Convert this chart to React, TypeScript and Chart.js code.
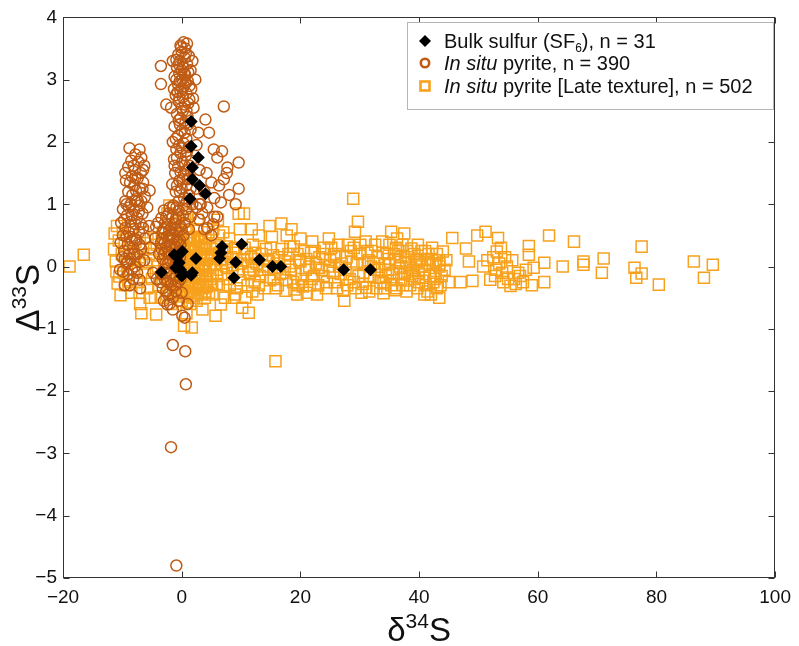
import React, { useEffect, useRef } from "react";
import { Chart, registerables } from "chart.js";
Chart.register(...registerables);

const xTicks = [-20, 0, 20, 40, 60, 80, 100];
const yTicks = [-5, -4, -3, -2, -1, 0, 1, 2, 3, 4];
const xTitle = { main: "δ", sup: "34", tail: "S" };
const yTitle = { main: "Δ", sup: "33", tail: "S" };

const bulkSulfur: [number, number][] = [
  [1.6, 2.33], [1.6, 1.93], [2.8, 1.75], [1.8, 1.59], [1.8, 1.4], [3.0, 1.3], [4.0, 1.17], [1.4, 1.09],
  [-3.4, -0.09], [-1.0, -0.02], [-1.25, 0.19], [0.1, 0.24], [-0.4, 0.06], [-0.7, 0.16], [2.4, 0.13],
  [1.8, -0.1], [1.6, -0.14], [-0.2, -0.05], [0.3, -0.12], [0.0, -0.15],
  [6.8, 0.32], [6.4, 0.13], [6.6, 0.22], [10.1, 0.36], [9.1, 0.07], [8.8, -0.18], [13.1, 0.11],
  [15.3, 0.0], [16.7, 0.0], [27.3, -0.05], [31.8, -0.05],
];

const inSituPyrite: [number, number][] = [
  // upper column
  [0.3, 3.6], [-0.2, 3.55], [0.6, 3.5], [0.0, 3.45], [-0.6, 3.4], [1.2, 3.38], [0.5, 3.35], [-0.3, 3.3],
  [0.9, 3.25], [-0.8, 3.2], [0.2, 3.2], [1.5, 3.15], [-0.4, 3.1], [0.6, 3.08], [-1.2, 3.05], [0.1, 3.0],
  [1.0, 2.98], [-0.6, 2.92], [0.4, 2.9], [1.6, 2.85], [-0.2, 2.82], [0.8, 2.78], [-1.0, 2.75], [0.2, 2.72],
  [1.3, 2.68], [-0.5, 2.65], [0.5, 2.6], [-3.5, 3.22], [-3.5, 2.93], [-2.6, 2.6], [-1.8, 2.55], [2.0, 2.55],
  [1.8, 3.3], [2.3, 3.0], [1.9, 2.7], [-1.5, 3.3], [0.9, 3.58], [7.1, 2.57], [-0.1, 3.52], [0.7, 3.42],
  [-0.9, 3.32], [0.0, 3.15], [1.1, 3.12], [-0.3, 2.98], [0.7, 2.95], [-0.7, 2.8], [1.1, 2.62], [0.0, 2.55],
  [-0.5, 3.25], [0.4, 3.1], [-0.9, 3.0], [1.3, 2.9], [-1.3, 2.85], [0.1, 2.85], [-0.4, 2.7],
  // middle column
  [0.2, 2.5], [-0.8, 2.45], [1.0, 2.4], [-0.2, 2.38], [0.6, 2.3], [-1.2, 2.25], [1.5, 2.2], [0.0, 2.18],
  [-0.6, 2.1], [0.8, 2.05], [-1.5, 2.0], [0.3, 1.98], [1.2, 1.92], [-0.9, 1.88], [-0.2, 1.82], [0.7, 1.78],
  [-1.3, 1.72], [1.6, 1.7], [0.1, 1.68], [-0.6, 1.6], [0.9, 1.55], [-1.1, 1.5], [0.4, 1.48], [1.4, 1.42],
  [-0.4, 1.38], [-1.6, 1.32], [0.8, 1.3], [0.0, 1.25], [-1.0, 1.2], [1.2, 1.15], [0.4, 1.1], [-0.5, 1.05],
  [1.8, 1.0], [-1.4, 0.98], [2.5, 1.95], [2.8, 2.15], [3.0, 1.55], [2.5, 1.25], [3.2, 1.0], [-0.3, 2.28],
  [0.5, 2.15], [-0.4, 1.95], [0.9, 1.85], [-0.8, 1.75], [0.5, 1.62], [-0.2, 1.52], [1.0, 1.4], [-0.8, 1.3],
  [0.8, 2.5], [-0.5, 2.35], [1.1, 2.28], [-1.0, 2.05], [0.1, 1.9], [1.3, 1.62], [-1.2, 1.62], [0.2, 1.4],
  [-0.3, 1.2], [1.5, 1.25], [0.9, 1.05],
  // right spread
  [4.0, 2.36], [4.6, 2.15], [5.4, 1.88], [6.8, 1.85], [6.0, 1.75], [7.7, 1.59], [9.6, 1.67], [7.1, 1.4],
  [6.3, 1.3], [9.6, 1.25], [6.6, 1.03], [9.1, 1.0], [4.2, 1.5], [5.0, 1.35], [3.8, 1.2], [5.5, 1.1],
  [8.0, 1.15], [7.6, 1.5], [3.0, 1.0], [4.3, 0.95], [6.0, 0.8], [5.3, 0.68],
  // lower column
  [-1.5, 0.95], [-0.5, 0.9], [0.8, 0.92], [-2.2, 0.85], [0.2, 0.82], [1.5, 0.8], [-1.0, 0.76], [-2.8, 0.7],
  [0.5, 0.7], [-0.2, 0.65], [-1.8, 0.62], [1.2, 0.6], [-3.2, 0.55], [-0.8, 0.55], [0.3, 0.5], [-2.5, 0.48],
  [-1.4, 0.45], [-0.3, 0.42], [-3.5, 0.38], [-2.0, 0.35], [-1.0, 0.3], [-2.8, 0.25],
  [-0.2, 0.25], [-1.7, 0.2], [-3.2, 0.12], [-0.8, 0.12], [-2.3, 0.05], [-1.2, 0.0], [-3.0, -0.05], [-0.4, -0.05],
  [-2.0, -0.12], [-1.4, -0.2], [-2.8, -0.22], [-0.6, -0.25], [-1.8, -0.3], [-3.2, -0.35], [-1.0, -0.4], [-2.3, -0.45],
  [0.0, -0.42], [2.5, 0.95], [3.0, 0.75], [3.5, 0.85], [4.3, 0.62], [3.8, 0.6],
  [5.0, 0.5], [5.5, 0.8], [-4.0, 0.7], [-4.5, 0.45], [-4.2, -0.2],
  [-2.6, 0.8], [-1.2, 0.68], [-2.1, 0.58], [-0.6, 0.4], [-2.6, 0.32], [-1.5, 0.1], [-2.6, -0.1], [-0.9, -0.15],
  [-4.3, 0.64], [-3.8, 0.2], [-3.6, -0.25], [-1.5, -0.5], [-2.6, -0.4],
  [-3.0, 0.9], [-2.0, 0.95], [-0.9, 0.95], [0.4, 0.98], [-3.4, 0.78], [-2.4, 0.68], [-1.6, 0.78], [-0.5, 0.78],
  [-3.0, 0.6], [-1.9, 0.5], [-1.0, 0.6], [0.0, 0.6], [-3.3, 0.45], [-2.2, 0.45], [-0.9, 0.42], [-2.9, 0.38],
  [-1.2, 0.35], [-0.2, 0.35], [-3.4, 0.28], [-2.2, 0.22], [-1.1, 0.18], [-0.3, 0.15], [-3.0, 0.2], [-1.9, 0.08],
  [-0.7, 0.02], [-2.7, 0.05], [-3.5, -0.12], [-2.3, -0.25], [-1.1, -0.3], [-0.2, -0.2],
  // lower outliers
  [-2.4, -0.61], [-1.5, -0.69], [0.1, -0.79], [0.5, -0.82], [-1.5, -1.26], [0.6, -1.36], [0.7, -1.89],
  [-1.8, -2.9], [-0.9, -4.8], [-0.5, -0.55], [1.0, -0.6], [-3.0, -0.55], [-2.0, -0.6],
  // left column
  [-7.1, 1.88], [-7.8, 1.8], [-6.8, 1.75], [-8.5, 1.7], [-7.3, 1.68], [-6.3, 1.62], [-9.0, 1.6], [-7.9, 1.55],
  [-6.9, 1.5], [-8.4, 1.45], [-7.4, 1.42], [-9.4, 1.38], [-6.5, 1.35], [-8.0, 1.3], [-7.0, 1.25], [-9.0, 1.2],
  [-8.3, 1.15], [-6.2, 1.12], [-7.6, 1.08], [-9.5, 1.05], [-8.6, 1.0], [-7.1, 0.98], [-5.8, 0.95], [-9.9, 0.92],
  [-8.0, 0.9], [-6.6, 0.85], [-9.2, 0.82], [-7.5, 0.78], [-8.6, 0.72], [-10.2, 0.7], [-6.9, 0.68], [-5.5, 0.65],
  [-9.5, 0.62], [-8.1, 0.6], [-7.2, 0.55], [-9.9, 0.5], [-8.7, 0.48], [-6.2, 0.45], [-7.6, 0.42], [-10.3, 0.38],
  [-9.1, 0.35], [-8.2, 0.3], [-6.8, 0.28], [-9.7, 0.25], [-7.5, 0.2], [-10.0, 0.15], [-8.6, 0.12], [-9.3, 0.05],
  [-7.9, 0.0], [-10.4, -0.05], [-9.0, -0.12], [-8.2, -0.2], [-9.6, -0.3], [-7.5, -0.1], [-7.0, -0.35], [-5.3, 0.3],
  [-4.8, -0.1], [-6.5, 1.55], [-8.8, 1.9], [-9.1, 0.08], [-9.9, -0.08], [-7.1, -0.21], [-5.4, 1.22], [-8.1, 1.62],
  [-7.7, 1.22], [-8.4, 0.82], [-7.2, 0.88], [-8.9, 0.55], [-7.9, 0.45], [-8.8, 0.2], [-8.4, -0.05], [-7.4, 1.05],
  [-9.5, 1.5], [-8.7, 1.35], [-7.8, 1.42], [-6.6, 1.25], [-9.3, 1.0], [-7.9, 1.05], [-6.8, 1.05], [-9.7, 0.75],
  [-8.9, 0.95], [-7.8, 0.68], [-6.5, 0.62], [-9.3, 0.48], [-8.4, 0.42], [-7.1, 0.35], [-9.6, 0.12], [-8.0, 0.2],
  [-7.0, 0.08], [-8.7, -0.3], [-6.3, 0.1],
];

const lateTexture: [number, number][] = [
  [-18.9, 0.0], [-16.5, 0.19],
  // left edge of blob
  [-11.3, 0.53], [-11.4, 0.28], [-11.1, 0.08], [-11.0, -0.08], [-10.8, -0.27], [-10.5, -0.16], [-10.3, -0.46],
  [-10.6, 0.42], [-10.1, 0.2], [-9.8, -0.1], [-9.6, 0.35], [-9.5, -0.3], [-9.2, 0.05], [-9.0, -0.22], [-8.8, 0.25],
  [-8.5, -0.42], [-8.2, 0.1], [-8.0, -0.05], [-7.8, 0.4], [-7.5, -0.25], [-7.2, 0.15], [-7.0, -0.6], [-6.8, -0.75],
  [-6.5, 0.3], [-6.2, -0.1], [-6.0, 0.05], [-5.8, -0.35], [-5.5, 0.2], [-5.2, 0.45], [-5.0, -0.2], [-9.9, 0.55],
  [-8.4, 0.6], [-7.1, -0.42], [-6.6, 0.55], [-5.4, -0.5], [-10.9, 0.65],
  // core blob
  [-4.8, 0.1], [-4.5, -0.5], [-4.3, -0.77], [-4.2, 0.35], [-4.0, 0.0], [-3.8, -0.3], [-3.5, 0.25], [-3.2, 0.55],
  [-3.0, -0.1], [-2.8, 0.15], [-2.5, -0.45], [-2.4, 0.85], [-2.1, 0.98], [-2.2, 0.4], [-2.0, 0.05], [-1.8, -0.2],
  [-1.5, 0.3], [-1.2, -0.35], [-1.0, 0.6], [-0.8, 0.1], [-0.5, -0.15], [-0.3, 0.4], [0.0, 0.2], [0.2, -0.4],
  [0.4, -0.95], [0.5, 0.75], [0.7, 0.0], [1.0, -0.25], [1.2, 0.45], [1.5, 0.1], [1.7, -0.98], [1.8, -0.5],
  [2.0, 0.3], [2.2, -0.1], [2.5, 0.6], [2.8, -0.3], [3.0, 0.15], [3.2, 0.45], [3.5, -0.69], [3.5, -0.05],
  [3.8, 0.3], [4.0, -0.4], [4.2, 0.1], [4.5, 0.55], [-3.9, 0.45], [-3.4, -0.2], [-2.9, 0.35], [-2.6, -0.05],
  [-2.3, 0.2], [-1.9, -0.4], [-1.6, 0.5], [-1.3, 0.05], [-1.1, -0.1], [-0.7, 0.3], [-0.4, -0.3], [-0.1, 0.5],
  [0.1, -0.1], [0.3, 0.35], [0.6, -0.2], [0.8, 0.15], [0.9, 0.55], [1.1, -0.4], [1.3, 0.25], [1.6, -0.15],
  [1.9, 0.45], [2.1, 0.05], [2.3, -0.35], [2.4, 0.25], [2.6, 0.0], [2.9, 0.4], [3.1, -0.2], [3.3, 0.2],
  [3.6, -0.35], [3.7, 0.05], [3.9, -0.15], [4.1, 0.35], [4.3, -0.25], [4.4, 0.2], [0.0, -0.55], [1.4, -0.6],
  [2.7, 0.75], [-0.6, 0.7], [1.0, 0.85], [-1.8, -0.6], [0.8, -0.75], [2.5, -0.55], [-3.3, -0.5], [-2.7, 0.6],
  [-1.0, -0.45], [-0.4, -0.42], [0.3, -0.48], [0.9, -0.45], [1.5, -0.4], [2.1, -0.47], [2.7, -0.43], [3.3, -0.45],
  [3.9, -0.5], [4.6, -0.42], [-0.8, -0.3], [-0.1, -0.28], [0.5, -0.32], [1.2, -0.3], [1.8, -0.27], [2.4, -0.3],
  [3.0, -0.33], [3.6, -0.28], [4.2, -0.32], [4.9, -0.3], [-0.9, -0.15], [-0.2, -0.13], [0.4, -0.17], [1.0, -0.12],
  [1.7, -0.15], [2.3, -0.18], [2.9, -0.12], [3.5, -0.16], [4.1, -0.13], [4.8, -0.15], [-1.1, 0.0], [-0.4, 0.02],
  [0.2, -0.02], [0.9, 0.03], [1.5, 0.0], [2.2, 0.02], [2.8, -0.03], [3.4, 0.0], [4.0, 0.03], [4.7, 0.0],
  [-0.8, 0.15], [-0.1, 0.13], [0.6, 0.17], [1.2, 0.12], [1.8, 0.15], [2.5, 0.18], [3.1, 0.13], [3.7, 0.16],
  [4.3, 0.12], [5.0, 0.15], [-1.0, 0.3], [-0.3, 0.28], [0.4, 0.32], [1.0, 0.3], [1.6, 0.27], [2.3, 0.3],
  [2.9, 0.33], [3.5, 0.28], [4.1, 0.3], [4.8, 0.3], [-0.6, 0.45], [0.2, 0.43], [0.8, 0.47], [1.5, 0.42],
  [2.1, 0.45], [2.7, 0.48], [3.4, 0.44], [4.0, 0.46],
  // band
  [4.8, -0.2], [5.0, 0.2], [5.2, -0.45], [5.5, 0.05], [5.7, -0.79], [5.8, 0.35], [6.0, -0.15], [6.3, 0.5],
  [6.6, -0.61], [6.5, 0.1], [7.0, -0.3], [7.3, 0.25], [7.5, 0.0], [7.8, -0.2], [8.0, 0.45], [8.3, 0.15],
  [8.5, -0.1], [9.0, 0.3], [9.3, -0.35], [9.6, 0.85], [10.5, 0.85], [10.0, 0.05], [10.2, -0.66], [10.7, -0.5],
  [11.0, 0.2], [11.3, -0.74], [11.5, -0.1], [12.0, 0.35], [12.3, -0.25], [12.6, 0.05], [13.0, 0.5], [13.2, -0.15],
  [13.5, 0.2], [14.0, -0.35], [14.3, 0.1], [14.6, -0.05], [15.0, 0.3], [15.2, 0.48], [15.5, -0.2], [15.8, -1.52],
  [16.0, 0.05], [16.4, 0.15], [16.8, 0.69], [17.0, -0.1], [17.5, -0.39], [17.7, 0.5], [18.0, 0.2], [18.4, -0.05],
  [18.9, 0.32], [19.0, -0.37], [19.5, -0.45], [19.8, 0.1], [20.2, -0.2], [20.6, 0.25], [21.1, -0.42], [21.5, 0.0],
  [22.0, 0.4], [22.3, -0.15], [22.8, -0.45], [23.2, 0.15], [23.6, -0.05], [24.0, 0.3], [24.5, -0.25], [25.0, 0.1],
  [25.5, -0.1], [26.0, 0.2], [26.5, 0.0], [27.2, -0.39], [27.4, -0.55], [27.8, 0.15], [28.3, -0.2], [28.9, 1.09],
  [29.2, 0.56], [29.7, 0.72], [29.5, 0.05], [30.3, -0.42], [30.0, 0.2], [30.6, -0.1], [31.1, -0.34], [31.5, 0.1],
  [32.0, 0.25], [32.5, -0.05], [33.0, 0.15], [33.5, -0.25], [34.0, -0.43], [34.0, -0.27], [34.3, 0.05], [34.6, 0.2],
  [35.0, 0.35], [35.3, 0.56], [35.5, -0.1], [36.0, 0.1], [36.5, 0.25], [37.0, -0.2], [37.5, 0.53], [37.8, 0.05],
  [38.2, 0.15], [38.7, 0.29], [39.0, -0.05], [39.5, 0.1], [40.0, -0.25], [40.5, 0.0], [40.9, -0.45], [41.3, 0.1],
  [41.8, -0.15], [42.0, -0.45], [42.3, 0.05], [43.0, 0.2], [43.4, 0.1], [43.4, 0.05], [43.4, 0.0], [43.4, -0.5],
  [43.6, -0.3], [44.0, 0.24],
  [5.3, 0.6], [6.1, 0.75], [7.0, 0.55], [8.8, -0.5], [9.8, 0.6], [11.8, 0.6], [12.8, -0.45], [14.8, 0.65],
  [16.2, -0.3], [18.5, 0.6], [20.0, 0.45], [21.8, 0.22], [23.0, -0.3], [24.8, 0.45], [26.2, -0.35], [28.0, 0.35],
  [29.0, -0.25], [31.0, 0.4], [32.8, -0.35], [33.8, 0.4], [36.2, -0.35], [37.2, 0.35], [38.5, -0.3], [39.8, 0.35],
  [41.0, 0.25], [42.6, -0.2], [5.8, -0.05], [6.8, 0.05], [7.7, 0.12], [8.6, 0.02], [9.5, -0.08], [10.4, 0.1],
  [11.2, 0.0], [12.1, -0.05], [12.9, 0.12], [13.8, 0.0], [14.7, 0.08], [15.6, -0.02], [16.6, -0.12], [17.4, 0.08],
  [18.2, 0.0], [19.2, -0.12], [20.0, 0.08], [20.9, -0.05], [21.9, -0.2], [22.6, 0.05], [23.9, -0.15], [24.8, 0.0],
  [25.7, 0.15], [26.8, -0.12], [27.6, -0.05], [28.6, 0.08], [29.8, -0.15], [30.8, 0.05], [31.8, -0.15], [32.3, 0.05],
  [33.3, -0.05], [34.8, -0.05], [35.8, 0.2], [36.8, 0.0], [37.6, -0.1], [38.4, 0.0], [39.3, -0.2], [40.2, 0.12],
  [41.0, -0.05], [42.8, -0.1], [44.3, -0.05], [35.3, -0.3], [36.3, 0.45], [34.9, 0.12], [36.6, -0.12], [38.0, -0.08],
  [39.6, 0.05], [40.7, -0.18], [41.8, 0.05], [43.0, -0.35], [42.2, 0.3],
  [5.2, 0.28], [5.9, -0.28], [6.4, 0.22], [7.1, -0.12], [7.6, 0.32], [8.1, -0.3], [8.7, 0.22], [9.2, 0.12],
  [9.9, -0.22], [10.6, 0.3], [11.1, -0.3], [11.7, 0.15], [12.4, 0.22], [13.0, -0.3], [13.6, -0.05], [14.2, 0.28],
  [14.9, -0.22], [15.4, 0.18], [16.1, -0.02], [16.9, 0.28], [17.6, -0.22], [18.3, 0.32], [18.8, -0.25], [19.5, 0.2],
  [20.4, -0.32], [21.0, 0.12], [21.6, -0.3], [22.4, 0.25], [23.1, -0.02], [23.8, 0.2], [24.3, -0.35], [25.2, 0.3],
  [25.8, -0.25], [26.4, 0.35], [27.0, 0.05], [27.9, -0.3], [28.5, 0.25], [29.3, -0.35], [30.1, 0.35], [30.5, -0.28],
  [31.3, 0.25], [31.9, 0.0], [32.6, 0.35], [33.2, -0.18], [33.9, 0.22], [34.4, -0.15], [35.1, 0.05], [35.7, -0.22],
  [36.1, 0.3], [36.9, 0.15], [37.3, -0.3], [38.0, 0.25], [38.8, -0.15], [39.2, 0.2], [39.9, -0.1], [40.4, 0.25],
  [41.1, -0.3], [41.6, 0.2], [42.4, -0.25], [42.9, 0.1], [43.8, -0.15], [44.6, 0.1], [34.2, -0.35], [35.9, -0.38],
  [37.9, -0.4], [39.7, -0.35], [41.4, -0.4], [29.0, 0.3], [31.6, -0.4], [24.2, 0.12], [19.6, -0.3], [15.9, -0.35],
  [11.9, -0.4], [9.0, -0.45], [7.3, -0.5],
  // far right
  [45.0, -0.25], [45.6, 0.46], [47.0, -0.25], [47.9, 0.29], [48.4, 0.08], [49.0, -0.23], [49.8, 0.5], [50.8, 0.0],
  [51.2, 0.56], [51.5, 0.1], [52.0, -0.21], [52.5, 0.15], [53.1, 0.24], [53.3, 0.46], [53.5, 0.05], [54.0, -0.1],
  [54.5, 0.15], [55.0, -0.2], [55.4, -0.31], [56.0, -0.2], [56.7, -0.1], [57.5, -0.25], [58.0, -0.05], [58.5, 0.33],
  [58.5, 0.19], [59.0, -0.3], [59.3, -0.02], [61.1, 0.06], [61.1, -0.25], [61.9, 0.5], [64.2, 0.0], [66.1, 0.4],
  [67.7, 0.08], [67.7, 0.03], [70.8, -0.1], [71.1, 0.13], [76.3, -0.02], [76.6, -0.18], [77.5, 0.32], [77.5, -0.11],
  [80.4, -0.29], [86.3, 0.08], [88.0, -0.18], [89.5, 0.03], [53.0, -0.05], [54.8, 0.0], [56.3, -0.28], [57.0, -0.15],
  [52.8, -0.15], [55.7, 0.1], [53.8, 0.3], [54.2, -0.25],
];

const FONT = '"Liberation Sans", Arial, Helvetica, sans-serif';
const CIRCLE_COLOR = "#BF5B14";
const SQUARE_COLOR = "#F7A11C";
const TEXT_COLOR = "#111111";

const fmt = (v: number | string) => String(v).replace("-", "\u2212");

function drawComposite(ctx: CanvasRenderingContext2D, t: { main: string; sup: string; tail: string }, cx: number, baseline: number) {
  const big = `33px ${FONT}`;
  const small = `21px ${FONT}`;
  ctx.font = big;
  const w1 = ctx.measureText(t.main).width;
  const w3 = ctx.measureText(t.tail).width;
  ctx.font = small;
  const w2 = ctx.measureText(t.sup).width;
  let x = cx - (w1 + w2 + w3) / 2;
  ctx.textAlign = "left";
  ctx.textBaseline = "alphabetic";
  ctx.font = big;
  ctx.fillText(t.main, x, baseline);
  x += w1;
  ctx.font = small;
  ctx.fillText(t.sup, x, baseline - 13);
  x += w2;
  ctx.font = big;
  ctx.fillText(t.tail, x, baseline);
}

const decorPlugin = {
  id: "decor",
  afterDatasetsDraw(chart: any) {
    const { ctx, chartArea: a, scales } = chart;
    ctx.save();
    ctx.strokeStyle = "#333333";
    ctx.lineWidth = 1;
    const L = Math.round(a.left) + 0.5, R = Math.round(a.right) - 0.5;
    const T = Math.round(a.top) + 0.5, B = Math.round(a.bottom) - 0.5;
    ctx.strokeRect(L, T, R - L, B - T);
    const tl = 6;
    ctx.beginPath();
    for (const v of xTicks) {
      const px = Math.round(scales.x.getPixelForValue(v)) + 0.5;
      ctx.moveTo(px, B); ctx.lineTo(px, B - tl);
      ctx.moveTo(px, T); ctx.lineTo(px, T + tl);
    }
    for (const v of yTicks) {
      const py = Math.round(scales.y.getPixelForValue(v)) + 0.5;
      ctx.moveTo(L, py); ctx.lineTo(L + tl, py);
      ctx.moveTo(R, py); ctx.lineTo(R - tl, py);
    }
    ctx.stroke();

    // axis titles
    ctx.fillStyle = TEXT_COLOR;
    drawComposite(ctx, xTitle, (a.left + a.right) / 2, 641);
    ctx.save();
    ctx.translate(39, (a.top + a.bottom) / 2);
    ctx.rotate(-Math.PI / 2);
    drawComposite(ctx, yTitle, 0, 0);
    ctx.restore();

    // legend
    const lx = 407, ly = 22, lw = 366, lh = 87;
    ctx.fillStyle = "#ffffff";
    ctx.fillRect(lx, ly, lw, lh);
    ctx.strokeStyle = "#b5b5b5";
    ctx.lineWidth = 1;
    ctx.strokeRect(lx + 0.5, ly + 0.5, lw, lh);
    const rows = [41, 63, 86];
    const mx = 425, tx = 444;
    // diamond
    ctx.fillStyle = "#000000";
    ctx.beginPath();
    ctx.moveTo(mx, rows[0] - 6); ctx.lineTo(mx + 6, rows[0]); ctx.lineTo(mx, rows[0] + 6); ctx.lineTo(mx - 6, rows[0]);
    ctx.closePath(); ctx.fill();
    // circle
    ctx.strokeStyle = CIRCLE_COLOR; ctx.lineWidth = 2.6;
    ctx.beginPath(); ctx.arc(mx, rows[1], 4.2, 0, Math.PI * 2); ctx.stroke();
    // square
    ctx.strokeStyle = SQUARE_COLOR; ctx.lineWidth = 2.6;
    ctx.strokeRect(mx - 4.5, rows[2] - 4.5, 9, 9);

    ctx.fillStyle = TEXT_COLOR;
    ctx.textAlign = "left";
    ctx.textBaseline = "alphabetic";
    const normal = `20px ${FONT}`, italic = `italic 20px ${FONT}`, sub = `12px ${FONT}`;
    let x = tx;
    let by = rows[0] + 7;
    ctx.font = normal; ctx.fillText("Bulk sulfur (SF", x, by); x += ctx.measureText("Bulk sulfur (SF").width;
    ctx.font = sub; ctx.fillText("6", x, by + 4); x += ctx.measureText("6").width;
    ctx.font = normal; ctx.fillText("), n = 31", x, by);
    x = tx; by = rows[1] + 7;
    ctx.font = italic; ctx.fillText("In situ", x, by); x += ctx.measureText("In situ").width;
    ctx.font = normal; ctx.fillText(" pyrite, n = 390", x, by);
    x = tx; by = rows[2] + 7;
    ctx.font = italic; ctx.fillText("In situ", x, by); x += ctx.measureText("In situ").width;
    ctx.font = normal; ctx.fillText(" pyrite [Late texture], n = 502", x, by);
    ctx.restore();
  },
};

export default function App() {
  const ref = useRef<HTMLCanvasElement | null>(null);
  useEffect(() => {
    if (!ref.current) return;
    const chart = new Chart(ref.current, {
      type: "scatter",
      data: {
        datasets: [
          {
            label: "Bulk sulfur (SF6), n = 31",
            data: bulkSulfur.map(([x, y]) => ({ x, y })),
            pointStyle: "rectRot",
            pointRadius: 6.5,
            backgroundColor: "#000000",
            borderColor: "#000000",
            borderWidth: 0,
            order: 1,
          },
          {
            label: "In situ pyrite, n = 390",
            data: inSituPyrite.map(([x, y]) => ({ x, y })),
            pointStyle: "circle",
            pointRadius: 5.5,
            backgroundColor: "rgba(0,0,0,0)",
            borderColor: CIRCLE_COLOR,
            borderWidth: 1.5,
            order: 2,
          },
          {
            label: "In situ pyrite [Late texture], n = 502",
            data: lateTexture.map(([x, y]) => ({ x, y })),
            pointStyle: "rect",
            pointRadius: 7.8,
            backgroundColor: "rgba(0,0,0,0)",
            borderColor: SQUARE_COLOR,
            borderWidth: 1.5,
            order: 3,
          },
        ],
      },
      options: {
        responsive: false,
        animation: false,
        layout: { padding: { top: 12, right: 19, left: 0, bottom: 0 } },
        plugins: { legend: { display: false }, tooltip: { enabled: false } },
        scales: {
          x: {
            type: "linear",
            min: -20,
            max: 100,
            afterBuildTicks: (s: any) => { s.ticks = xTicks.map((v) => ({ value: v })); },
            afterFit: (s: any) => { s.height = 68; },
            grid: { display: false, drawTicks: false },
            border: { display: false },
            ticks: { autoSkip: false, maxRotation: 0, padding: 8, color: TEXT_COLOR, font: { family: FONT, size: 19 }, callback: (v: any) => fmt(v) },
          },
          y: {
            type: "linear",
            min: -5,
            max: 4,
            afterBuildTicks: (s: any) => { s.ticks = yTicks.map((v) => ({ value: v })); },
            afterFit: (s: any) => { s.width = 63; },
            grid: { display: false, drawTicks: false },
            border: { display: false },
            ticks: { autoSkip: false, padding: 6, color: TEXT_COLOR, font: { family: FONT, size: 19 }, callback: (v: any) => fmt(v) },
          },
        },
      },
      plugins: [decorPlugin],
    } as any);
    return () => chart.destroy();
  }, []);
  return (
    <div style={{ position: "absolute", left: 0, top: 0, width: 799, height: 646, background: "#fff" }}>
      <canvas ref={ref} width={799} height={646} style={{ display: "block" }} />
    </div>
  );
}
